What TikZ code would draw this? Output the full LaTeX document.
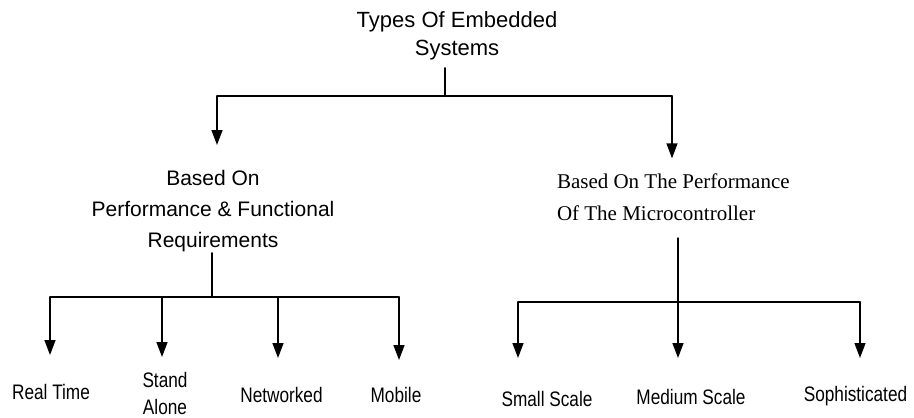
\documentclass[tikz,border=0pt]{standalone}
\usepackage{fontspec}
\setmainfont{Liberation Sans}
\newfontfamily\serifF{Liberation Serif}
\newfontfamily\narrowF[FakeStretch=0.82]{Liberation Sans}
\usetikzlibrary{arrows.meta}
\begin{document}
\begin{tikzpicture}[x=1pt,y=-1pt,
  line/.style={line width=1.4pt, line cap=round},
  arr/.style={line, -{Triangle[length=15pt,width=11pt]}},
  lbl/.style={inner sep=0pt, outer sep=0pt},
  bot/.style={lbl, font=\narrowF\fontsize{21}{27}\selectfont, align=center, anchor=north}]
\useasboundingbox[fill=white] (0,0) rectangle (914,418);

% text nodes
\node[lbl, font=\fontsize{22}{28}\selectfont, align=center, anchor=north] (title) at (457,12) {Types Of Embedded\\Systems};
\node[lbl, font=\fontsize{21}{31}\selectfont, align=center, anchor=north] (perf) at (213,170) {Based On\\Performance \& Functional\\Requirements};
\node[lbl, font=\serifF\fontsize{21}{32}\selectfont, align=left, anchor=north west] (micro) at (557,174) {Based On The Performance\\Of The Microcontroller};

\node[bot] (rt) at (51,384.7) {Real Time};
\node[bot] (sa) at (165,372) {Stand\\Alone};
\node[bot] (nw) at (281.5,387.7) {Networked};
\node[bot] (mb) at (396,387.7) {Mobile};
\node[bot] (sm) at (547,391.7) {Small Scale};
\node[bot] (md) at (691,389.7) {Medium Scale};
\node[bot] (so) at (855.5,386.7) {Sophisticated};

% bus coordinates
\coordinate (tb) at (445,96);
\coordinate (tl) at (217,96);
\coordinate (tr) at (672,96);
\coordinate (lb) at (212,297);
\coordinate (b1) at (50,297);
\coordinate (b2) at (162,297);
\coordinate (b3) at (278,297);
\coordinate (b4) at (399,297);
\coordinate (rb) at (678,302);
\coordinate (c1) at (518,302);
\coordinate (c2) at (678,302);
\coordinate (c3) at (860,302);

% top level
\draw[line, shorten <=7.4pt] (title.south -| tb) -- (tb);
\draw[line] (tl) -- (tr);
\draw[arr, shorten >=25pt] (tl) -- (tl |- perf.north);
\draw[arr, shorten >=15.7pt] (tr) -- (tr |- micro.north);

% left subtree
\draw[line, shorten <=1.3pt] (perf.south -| lb) -- (lb);
\draw[line] (b1) -- (b4);
\draw[arr, shorten >=29.7pt] (b1) -- (b1 |- rt.north);
\draw[arr, shorten >=15pt] (b2) -- (b2 |- sa.north);
\draw[arr, shorten >=29.7pt] (b3) -- (b3 |- nw.north);
\draw[arr, shorten >=27.7pt] (b4) -- (b4 |- mb.north);

% right subtree
\draw[line, shorten <=17pt] (micro.south -| rb) -- (rb);
\draw[line] (c1) -- (c3);
\draw[arr, shorten >=33.7pt] (c1) -- (c1 |- sm.north);
\draw[arr, shorten >=31.7pt] (c2) -- (c2 |- md.north);
\draw[arr, shorten >=28.7pt] (c3) -- (c3 |- so.north);
\end{tikzpicture}
\end{document}
